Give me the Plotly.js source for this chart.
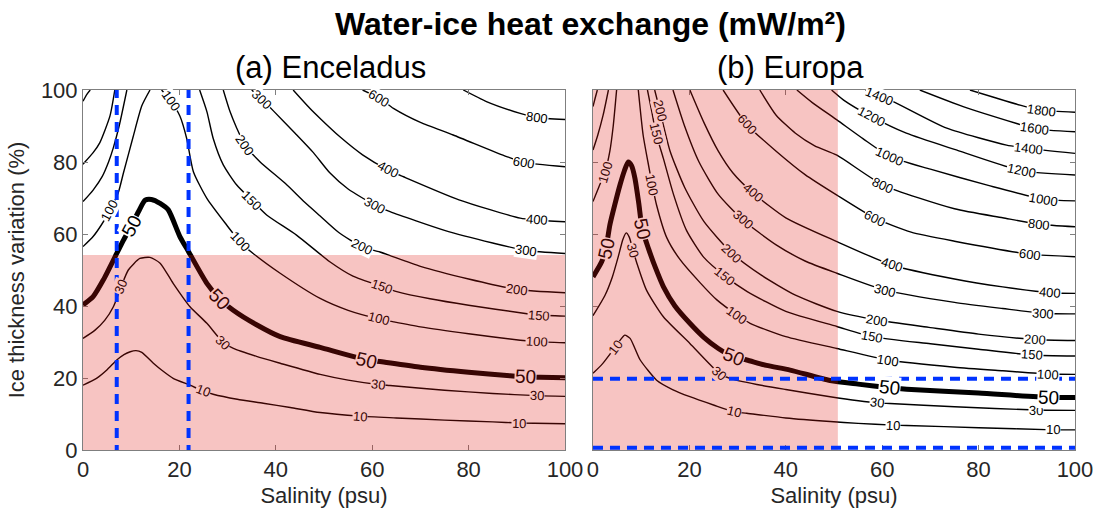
<!DOCTYPE html>
<html><head><meta charset="utf-8">
<script src="https://cdn.plot.ly/plotly-3.0.1.min.js"></script>
<style>body{margin:0;background:#fff}</style>
</head><body><div id="chart" style="width:1095px;height:516px"></div>
<script>
// ---------- (a) Enceladus ----------
const encLevels = [10,30,50,100,100,150,150,200,200,300,300,400,600,800];
const encLinesX = [
 [0,2.8,5,7,8.5,9.8,11,12.2,14.6,16.5,18.7,22.2,24.9,27,32,37.4,43,49.2,57.5,65,75,85,90.5,100],
 [0,2.5,4.5,6.3,7.9,9.4,11.8,13.9,16,18.7,22.2,25.7,29,31.2,36,40.9,49.2,55,61.2,63.7,75,85,94.2,100],
 [0,2.1,4.2,7,8.4,10,11.5,12.9,14.2,16,17.7,20.1,21.9,25.7,28.4,31.1,36,40.9,49.2,58.9,62,70,80,88.6,91.9,94.8,100],
 [0,2.1,3.8,5.5,7.3,8.4,10.4,12.2,13.9],
 [16.3,18.2,20.1,21.5,22.9,25.7,29.8,32.6,35.3,40.9,49.2,55,61.4,64.4,70,80,90.7,94.1,100],
 [0,2.1,4,5.3,6.3,7.5,9.1],
 [24.2,25.7,27,29.1,31.9,35,38.1,44.3,51.2,56,62,65.1,72,80,91.4,94.5,100],
 [0,2.1,3.5,5.6,6.6],
 [29.1,30.5,31.9,33.6,36.7,42,46,49.2,53,57.8,61.6,70,80,90,100],
 [0,0.8,1.5],
 [35,37.1,39.5,44,47.8,51.2,55,60.6,63.7,75,85,92,100],
 [43.6,47,49.2,53.3,58,63.3,66.5,78,90.7,94.1,100],
 [58,61.5,64.4,70,76.8,87.9,91.4,100],
 [78.9,83.7,90.7,94.1,100]
];
const encLinesY = [
 [18,19.9,22.3,25,26.5,27.3,27.6,27.1,24.1,22,19.9,18,16.4,15.5,14.1,13,11.8,10.4,9.4,8.9,8.3,7.8,7.5,7.3],
 [31,33.3,36,39.8,45.3,50,53.2,53.5,51.9,46.3,39.8,35.2,30,28.2,26,24.1,21,19.4,18.2,17.9,16.6,15.7,15.1,14.9],
 [40.3,42.6,47.2,54.6,58.3,62.2,66.2,69.4,69.6,68.5,66.7,59.3,55.1,46.3,41.9,38.9,34.8,31.5,28.5,25,24.5,23,21.6,20.6,20.3,20.2,20.1],
 [56.5,59.3,62.5,66.4,71.4,77,87,95.6,100],
 [100,97,92.8,86.6,77.3,69.9,62.5,57.8,54.6,49.1,42.1,38.8,36.4,35.6,34.2,32.3,30.5,30.1,29.8],
 [69,72.2,76,80,84,90,100],
 [100,94,86.6,79.2,73.6,69.4,65.3,59.7,52.3,48.3,45.4,44,42,40.2,38,37.5,37.2],
 [79.4,82.6,85.4,92.8,100],
 [100,94,89.4,84.7,80.1,74,68.8,65,60.5,56.5,55,51,47.5,44.6,43.7],
 [96.9,98.8,100],
 [100,97.4,94.2,88,82.6,77,72.5,68,66.2,61,57.5,55.4,54.6],
 [100,95,92.1,87,82,77.8,75.9,69.5,64.4,63.9,63.4],
 [100,97.7,94.9,91,87.5,81.5,79.9,78.7],
 [100,96.8,93.5,92.3,91.8]
];
const encLabelText = ['10','10','10','30','30','30','30','50','50','50','50','100','100','100','100','100','150','150','150','200','200','200','300','300','300','400','400','600','600','800'];
const encLabelX = [24.9,57.5,90.5, 7.9,29,61.2,94.2, 10,28.4,58.9,91.9, 5.5,18.2,32.6,61.4,94.1, 35,62,94.5, 33.6,57.8,90, 37.1,60.6,92, 63.3,94.1, 61.5,91.4, 94.1];
const encLabelY = [16.4,9.4,7.5, 45.3,30,18.2,15.1, 62.2,41.9,25,20.3, 66.4,97,57.8,36.4,30.1, 69.4,45.4,37.5, 84.7,56.5,44.6, 97.4,68,55.4, 77.8,63.9, 97.7,79.9, 92.3];
const encShadeY = [0, 54.2];      // shaded thickness band
const encDashX = [7, 21.9];       // salinity bounds

// ---------- (b) Europa ----------
const eurLevels = [10,30,50,100,100,150,150,200,200,300,400,600,800,1000,1200,1400,1600,1800];
const eurLinesX = [
 [0,2,4.6,5.7,6.6,7.7,8.7,9.8,13.2,16.5,20.1,25,29.3,31.9,40,49.2,55,62.3,65.1,80,95.5,100],
 [0,2.5,4,5.3,6.2,6.9,7.5,8.3,9.1,11.1,14.6,20.1,26.2,28.4,34,40,49.2,58.9,61.6,75,92,100],
 [0,1.8,2.7,3.5,4.5,5.6,6.5,7.3,8,8.7,9.5,10.2,11.5,13,14.6,17,20.1,23,26,29.1,31.9,36,40.9,49.2,55,61.6,65.1,80,94.5,100],
 [0,1.2,2.5,3.5,4.2,4.9],
 [9.4,10.4,11.4,12.3,13.2,15.3,18,22.2,25.7,29.9,32.6,40,50.6,61.3,75,85,94.5,100],
 [0,1,2.1,3.2],
 [11.3,12.2,13.1,14.6,16.7,19.4,23,27.4,32,40,50.6,57.8,70,80,91,100],
 [0,0.4,0.9],
 [12.8,13.9,16,19,23,28.8,35,42,50.6,58.9,70,80,91.7,100],
 [16.6,19,22,26,31.1,38,44,50.6,60.6,75,85,93.4,100],
 [20.1,23,26,29,33.2,40,50.6,62,75,85,94.8,100],
 [27,32,38,44,50.6,58.5,66,75,90.7,100],
 [34.6,38,42,46,50.6,60.2,75,85,92.6,100],
 [42.3,45.5,50.6,56,61.6,70,82,93.4,100],
 [49.5,52,57.8,65,75,88.9,100],
 [56.5,59.5,62.3,73.4,85.8,90.3,100],
 [67.8,76.8,87.9,91.7,100],
 [78.2,83.8,88.6,93.1,100]
];
const eurLinesY = [
 [21.3,24,28.6,30.6,31.9,31,28.2,25,19.4,16.8,14.8,12.5,10.6,10.2,8.9,7.9,7.4,6.9,6.8,6.2,5.6,5.6],
 [37.3,43,48,54,58.5,60.3,59.2,55.5,51.9,44.4,37,29.6,21.3,19.9,18.2,16.8,14.8,13.1,12.9,12,11.1,11],
 [48.1,52.3,56.1,62.5,68,73.6,77.5,80,79,75.5,68.5,61.5,56,50.5,45.4,40,35.2,31.3,28.2,25.9,25,23.5,22.2,19.3,18.3,17.3,16.9,15.8,14.6,14.6],
 [69,73,77.2,83,90,100],
 [100,87.5,80,73.6,68,59,53,46.5,41.7,37.5,35.2,31.5,28.2,25,23,22,21.1,21],
 [83.3,87.5,93,100],
 [100,94,87.8,81,71,61,53.5,48.3,44,38.5,34.3,31.5,29.5,28,26.4,26.1],
 [95.4,97.5,100],
 [100,94.2,83,73,63.5,54.7,48.5,43,38.5,36.1,34,32.2,30.7,30.4],
 [100,90,80,71,63.9,57,52.5,49.1,44.4,41,39.3,38,37.8],
 [100,91,83,77,71.4,64.5,57.9,51.4,47.5,45.3,43.7,43.5],
 [100,90.3,83,76.5,70.8,64.4,60.5,58,54.4,53.7],
 [100,93,88,84.5,81.9,73.6,67,64.5,62.7,62],
 [100,96.5,91.7,86.5,81.5,78,73.5,69.7,69.2],
 [100,97.2,92.6,88,83.5,77.6,76.4],
 [100,98.3,96.8,89.4,84.7,83.8,82.4],
 [100,95.4,90.7,89.2,88.4],
 [100,97.7,95.8,94.4,93.8]
];
const eurLabelText = ['10','10','10','10','30','30','30','30','50','50','50','50','50','100','100','100','100','100','150','150','150','150','200','200','200','200','300','300','300','400','400','400','600','600','600','800','800','1000','1000','1200','1200','1400','1400','1600','1800'];
const eurLabelX = [4.6,29.3,62.3,95.5, 8.3,26.2,58.9,92, 2.7,10.2,29.1,61.6,94.5, 2.5,12.3,29.9,61.3,94.5, 13.1,27.4,57.8,91, 13.9,28.8,58.9,91.7, 31.1,60.6,93.4, 33.2,62,94.8, 32,58.5,90.7, 60.2,92.6, 61.6,93.4, 57.8,88.9, 59.5,90.3, 91.7, 93.1];
const eurLabelY = [28.6,10.6,6.9,5.6, 55.5,21.3,13.1,11.1, 56.1,61.5,25.9,17.3,14.6, 77.2,73.6,37.5,25,21.1, 87.8,48.3,31.5,26.4, 94.2,54.7,36.1,30.7, 63.9,44.4,38, 71.4,51.4,43.7, 90.3,64.4,54.4, 73.6,62.7, 81.5,69.7, 92.6,77.6, 98.3,83.8, 89.2, 94.4];
const eurShadeX = [0, 50.8];      // shaded salinity band
const eurDashY = [19.8, 0.6];     // thickness bounds

// ---------- drawing ----------
const FONT = 'Liberation Sans, Arial, Helvetica, sans-serif';
const PX_X = 482/100, PX_Y = 360/100;       // pixels per data unit
const SHADE = 'rgba(225,20,10,0.25)';
const SHADE_BG = 'rgb(248,196,194)';
const SHADE_TXT = 'rgb(56,5,3)';
const BLUE = 'rgb(0,51,255)';

const traces = [];
function addLines(levels, xs, ys, xa, ya) {
  levels.forEach((lv, i) => {
    traces.push({
      type: 'scatter', mode: 'lines', x: xs[i], y: ys[i], xaxis: xa, yaxis: ya,
      line: {color: '#000', width: lv === 50 ? 5 : 1.4, shape: 'spline', smoothing: 0.6},
      hoverinfo: 'skip', showlegend: false
    });
  });
}
addLines(encLevels, encLinesX, encLinesY, 'x', 'y');
addLines(eurLevels, eurLinesX, eurLinesY, 'x2', 'y2');

const annotations = [];
function addLabels(texts, lx, ly, levels, xs, ys, xref, yref, inShade) {
  texts.forEach((t, k) => {
    const lv = +t;
    let best = null, bd = 1e9;
    levels.forEach((L, i) => {
      if (L !== lv) return;
      xs[i].forEach((xv, j) => {
        const d = Math.hypot(xv - lx[k], ys[i][j] - ly[k]);
        if (d < bd) { bd = d; best = [i, j]; }
      });
    });
    let ang = 0;
    if (best) {
      const [i, j] = best, X = xs[i], Y = ys[i];
      const a = Math.max(0, j - 1), b = Math.min(X.length - 1, j + 1);
      const dx = (X[b] - X[a]) * PX_X, dy = (Y[b] - Y[a]) * PX_Y;
      ang = -Math.atan2(dy, dx) * 180 / Math.PI;
      if (ang > 90) ang -= 180;
      if (ang < -90) ang += 180;
    }
    const shaded = inShade(lx[k], ly[k]);
    annotations.push({
      x: lx[k], y: ly[k], xref: xref, yref: yref, text: t, showarrow: false,
      xanchor: 'center', yanchor: 'middle',
      textangle: ang, borderpad: 0,
      bgcolor: shaded ? SHADE_BG : '#ffffff',
      font: {family: FONT, size: lv === 50 ? 19 : 13, color: shaded ? SHADE_TXT : '#000'}
    });
  });
}
addLabels(encLabelText, encLabelX, encLabelY, encLevels, encLinesX, encLinesY, 'x', 'y',
  (x, y) => y <= encShadeY[1]);
addLabels(eurLabelText, eurLabelX, eurLabelY, eurLevels, eurLinesX, eurLinesY, 'x2', 'y2',
  (x, y) => x <= eurShadeX[1]);

// titles
annotations.push({xref:'paper', yref:'paper', x:0.512, y:1.183, xanchor:'center', yanchor:'middle',
  text:'Water-ice heat exchange (mW/m²)', showarrow:false,
  font:{family:FONT, size:32, color:'#000', weight:700}});
annotations.push({xref:'paper', yref:'paper', x:0.249, y:1.062, xanchor:'center', yanchor:'middle',
  text:'(a) Enceladus', showarrow:false, font:{family:FONT, size:31, color:'#000'}});
annotations.push({xref:'paper', yref:'paper', x:0.713, y:1.062, xanchor:'center', yanchor:'middle',
  text:'(b) Europa', showarrow:false, font:{family:FONT, size:31, color:'#000'}});

const shapes = [
  {type:'rect', xref:'x', yref:'y', x0:0, x1:100, y0:encShadeY[0], y1:encShadeY[1], fillcolor:SHADE, line:{width:0}, layer:'above'},
  {type:'rect', xref:'x2', yref:'y2', x0:eurShadeX[0], x1:eurShadeX[1], y0:0, y1:100, fillcolor:SHADE, line:{width:0}, layer:'above'}
];
encDashX.forEach(v => shapes.push({type:'line', xref:'x', yref:'y', x0:v, x1:v, y0:-1.4, y1:100,
  line:{color:BLUE, width:4, dash:'10px,7px'}, layer:'above'}));
eurDashY.forEach(v => shapes.push({type:'line', xref:'x2', yref:'y2', x0:0, x1:100, y0:v, y1:v,
  line:{color:BLUE, width:4, dash:'10px,7px'}, layer:'above'}));

const axBase = {
  range:[0,100], tickvals:[0,20,40,60,80,100], showgrid:false, zeroline:false,
  showline:true, mirror:'ticks', linecolor:'#7f7f7f', linewidth:1,
  ticks:'inside', ticklen:5, tickcolor:'#7f7f7f',
  tickfont:{family:FONT, size:22, color:'#262626'}
};
const layout = {
  width:1095, height:516, margin:{l:83, r:20, t:90, b:66},
  paper_bgcolor:'#fff', plot_bgcolor:'#fff', showlegend:false,
  font:{family:FONT},
  xaxis: Object.assign({}, axBase, {domain:[0, 0.4859], anchor:'y',
    title:{text:'Salinity (psu)', font:{family:FONT, size:22, color:'#262626'}, standoff:6}}),
  yaxis: Object.assign({}, axBase, {domain:[0,1], anchor:'x',
    title:{text:'Ice thickness variation (%)', font:{family:FONT, size:22, color:'#262626'}, standoff:10}}),
  xaxis2: Object.assign({}, axBase, {domain:[0.5141, 1], anchor:'y2',
    title:{text:'Salinity (psu)', font:{family:FONT, size:22, color:'#262626'}, standoff:6}}),
  yaxis2: Object.assign({}, axBase, {domain:[0,1], anchor:'x2', showticklabels:false}),
  shapes: shapes,
  annotations: annotations
};
Plotly.newPlot('chart', traces, layout, {displayModeBar:false, staticPlot:true});
</script></body></html>
